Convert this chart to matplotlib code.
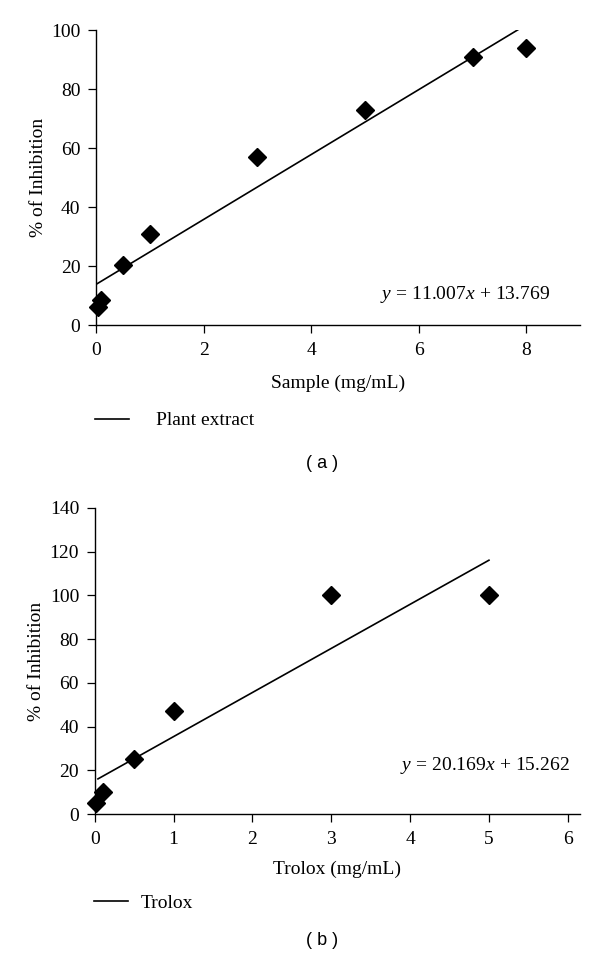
import matplotlib
matplotlib.use("Agg")
import matplotlib.pyplot as plt
import numpy as np

plt.rcParams['font.family'] = ['Liberation Serif', 'DejaVu Serif']
plt.rcParams['mathtext.fontset'] = 'custom'
plt.rcParams['mathtext.rm'] = 'Liberation Serif'
plt.rcParams['mathtext.it'] = 'Liberation Serif:italic'

# Panel (a) data
sample_x = [0.03, 0.1, 0.5, 1, 3, 5, 7, 8]
sample_y = [6, 8.5, 20.5, 31, 57, 73, 91, 94]
slope_a, icpt_a = 11.007, 13.769
fit_a_x = [0, 8]

# Panel (b) data
trolox_x = [0.02, 0.1, 0.5, 1, 3, 5]
trolox_y = [5, 10, 25, 47, 100, 100]
slope_b, icpt_b = 20.169, 15.262
fit_b_x = [0.04, 5]

FS = 14
fig = plt.figure(figsize=(6, 9.63), dpi=100)

def style(ax, xlim, ylim, xticks, yticks):
    ax.set_xlim(*xlim)
    ax.set_ylim(*ylim)
    ax.set_xticks(xticks)
    ax.set_yticks(yticks)
    for s in ['top', 'right']:
        ax.spines[s].set_visible(False)
    for s in ['left', 'bottom']:
        ax.spines[s].set_linewidth(1.0)
    ax.tick_params(direction='out', length=5.8, width=0.9, labelsize=FS)
    ax.tick_params(axis='x', pad=6.5)
    ax.tick_params(axis='y', pad=5.5)

ax1 = fig.add_axes([0.16, 0.6625, 0.807, 0.3063])
style(ax1, (0, 9.0), (0, 100), [0, 2, 4, 6, 8], [0, 20, 40, 60, 80, 100])
fx = np.array(fit_a_x, dtype=float)
ax1.plot(fx, slope_a * fx + icpt_a, color='black', lw=1.2, label='Plant extract')
ax1.plot(sample_x, sample_y, 'D', color='black', markersize=9.5, clip_on=False)
ax1.set_ylabel('% of Inhibition', fontsize=FS, labelpad=3)
ax1.set_xlabel('Sample (mg/mL)', fontsize=FS, labelpad=11)
ax1.text(0.938, 0.105, r'$y\,=\,11.007x\,+\,13.769$', transform=ax1.transAxes,
         ha='right', va='center', fontsize=FS)
ax1.legend(loc='center left', bbox_to_anchor=(-0.018, -0.324), frameon=False,
           handlelength=1.75, handletextpad=1.4, fontsize=FS, borderaxespad=0)
fig.text(0.537, 1 - 463 / 963, '( a )', family='Liberation Sans', fontsize=13,
         ha='center', va='center')

ax2 = fig.add_axes([0.158, 0.1547, 0.808, 0.3178])
style(ax2, (0, 6.15), (0, 140), [0, 1, 2, 3, 4, 5, 6], [0, 20, 40, 60, 80, 100, 120, 140])
fx = np.array(fit_b_x, dtype=float)
ax2.plot(fx, slope_b * fx + icpt_b, color='black', lw=1.2, label='Trolox')
ax2.plot(trolox_x, trolox_y, 'D', color='black', markersize=9.5, clip_on=False)
ax2.set_ylabel('% of Inhibition', fontsize=FS, labelpad=3)
ax2.set_xlabel('Trolox (mg/mL)', fontsize=FS, labelpad=9)
ax2.text(0.979, 0.157, r'$y\,=\,20.169x\,+\,15.262$', transform=ax2.transAxes,
         ha='right', va='center', fontsize=FS)
ax2.legend(loc='center left', bbox_to_anchor=(-0.018, -0.291), frameon=False,
           handlelength=1.75, handletextpad=0.65, fontsize=FS, borderaxespad=0)
fig.text(0.537, 1 - 940 / 963, '( b )', family='Liberation Sans', fontsize=13,
         ha='center', va='center')

fig.savefig('out.png', dpi=100)
